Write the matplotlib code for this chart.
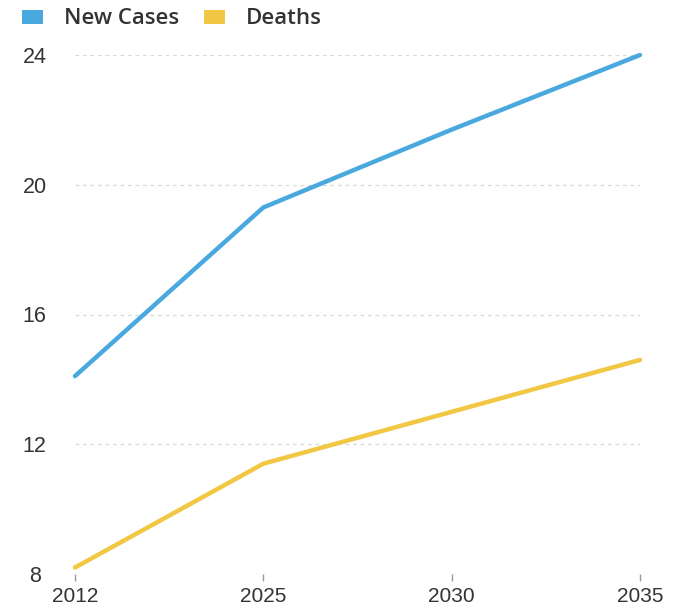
import matplotlib
matplotlib.use("Agg")
import matplotlib.pyplot as plt
from matplotlib.patches import Patch

# === Data ===
years = ["2012", "2025", "2030", "2035"]
new_cases = [14.1, 19.3, 21.7, 24.0]
deaths = [8.2, 11.4, 13.0, 14.6]
y_ticks = [8, 12, 16, 20, 24]

BLUE = "#49a9df"
YELLOW = "#f2c744"
TEXT = "#333333"

plt.rcParams["font.family"] = ["Liberation Sans", "DejaVu Sans"]

fig = plt.figure(figsize=(6.74, 6.08), dpi=100)
ax = fig.add_axes([75 / 674, 34 / 608, 565 / 674, 519 / 608])

x = list(range(len(years)))
ax.plot(x, new_cases, color=BLUE, lw=3.2, solid_capstyle="round", clip_on=False, zorder=3)
ax.plot(x, deaths, color=YELLOW, lw=3.2, solid_capstyle="round", clip_on=False, zorder=3)

ax.set_xlim(0, len(years) - 1)
ax.set_ylim(8, 24)
ax.set_xticks(x)
ax.set_xticklabels(years)
ax.set_yticks(y_ticks)
ax.set_yticklabels([str(v) for v in y_ticks])

# grid + spines
ax.grid(axis="y", color="#d9d9d9", linestyle=(0, (3, 3)), linewidth=0.9)
ax.set_axisbelow(True)
for s in ax.spines.values():
    s.set_visible(False)

ax.tick_params(axis="y", length=0, pad=29, labelsize=15.5, labelcolor=TEXT)
for lab in ax.get_yticklabels():
    lab.set_horizontalalignment("center")
ax.tick_params(axis="x", length=5, width=1, color="#999999", direction="out",
               pad=4, labelsize=15, labelcolor=TEXT)

# legend
handles = [Patch(facecolor=BLUE, edgecolor="none", label="New Cases"),
           Patch(facecolor=YELLOW, edgecolor="none", label="Deaths")]
fig.legend(handles=handles, loc="center left", bbox_to_anchor=(22 / 674, 1 - 19 / 608),
           ncol=2, frameon=False, handlelength=0.95, handleheight=0.6,
           handletextpad=0.95, columnspacing=1.1, labelcolor=TEXT, borderaxespad=0,
           borderpad=0, prop={"family": "Open Sans", "size": 16, "weight": "semibold"})

fig.savefig("out.png", dpi=100)
